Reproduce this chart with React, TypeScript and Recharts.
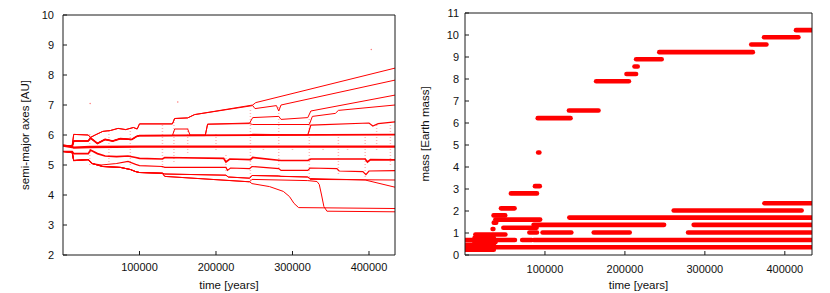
import React from 'react';
import { ComposedChart, Line, XAxis, YAxis, ReferenceLine, Scatter } from 'recharts';

type P = [number, number];
type Seg = [number, number, number];

// ---------- shared axis data ----------
const T_MAX = 434000;
const timeTicks = [100000, 200000, 300000, 400000];
const auTicks = [2, 3, 4, 5, 6, 7, 8, 9, 10];
const massTicks = [0, 1, 2, 3, 4, 5, 6, 7, 8, 9, 10, 11];

// ---------- left panel: semi-major axes [AU] vs time ----------
// early shared tracks (t, a)
const early1: P[] = [[0, 5.65], [12000, 5.65], [14000, 6.02], [33000, 6.0], [36000, 5.92], [42000, 6.0], [52000, 6.12], [62000, 6.15], [72000, 6.22], [82000, 6.18], [92000, 6.25], [97000, 6.2], [100000, 6.37]];
const early2: P[] = [[0, 5.65], [12000, 5.62], [14000, 5.8], [33000, 5.8], [36000, 5.9], [45000, 5.72], [55000, 5.85], [65000, 5.8], [75000, 5.88], [90000, 5.85], [96000, 5.95], [100000, 5.98]];
const early3: P[] = [[0, 5.65], [12000, 5.6], [14000, 5.58], [35000, 5.6], [100000, 5.61]];
const early4: P[] = [[0, 5.45], [12000, 5.45], [14000, 5.38], [33000, 5.38], [36000, 5.5], [45000, 5.38], [55000, 5.3], [70000, 5.28], [85000, 5.3], [95000, 5.25], [100000, 5.22]];
const early5: P[] = [[0, 5.45], [12000, 5.42], [14000, 5.15], [33000, 5.18], [38000, 5.05], [50000, 5.0], [70000, 5.05], [85000, 5.12], [95000, 5.02], [100000, 4.98]];
const early6: P[] = [[0, 5.45], [12000, 5.42], [14000, 5.15], [33000, 5.18], [38000, 5.05], [52000, 4.95], [75000, 4.92], [88000, 4.85], [95000, 4.78], [100000, 4.75]];

const orbit1: P[] = [...early1, [143000, 6.37], [146000, 6.55], [163000, 6.57], [172000, 6.68], [248000, 7.0], [252000, 7.08], [434000, 8.23]];
const orbit2: P[] = [...early1, [143000, 6.37], [146000, 6.55], [163000, 6.57], [172000, 6.68], [248000, 6.98], [251000, 6.88], [279000, 6.98], [282000, 6.8], [285000, 7.0], [434000, 7.83]];
const orbit3: P[] = [...early2, [143000, 5.98], [146000, 6.2], [163000, 6.2], [166000, 6.0], [186000, 6.0], [189000, 6.36], [244000, 6.4], [248000, 6.58], [282000, 6.62], [285000, 6.52], [320000, 6.58], [324000, 6.8], [434000, 7.33]];
const orbit4: P[] = [...early2, [186000, 5.98], [189000, 6.36], [244000, 6.38], [248000, 6.35], [322000, 6.35], [326000, 6.62], [356000, 6.72], [360000, 6.82], [434000, 7.0]];
const orbit5: P[] = [...early2, [244000, 6.0], [248000, 6.02], [320000, 6.0], [324000, 6.33], [400000, 6.4], [405000, 6.3], [412000, 6.38], [434000, 6.44]];
const orbit6: P[] = [...early2, [434000, 6.01]];
const orbit7: P[] = [...early3, [434000, 5.61]];
const orbit8: P[] = [...early4, [130000, 5.2], [133000, 5.25], [210000, 5.22], [213000, 5.1], [218000, 5.2], [245000, 5.18], [248000, 5.25], [285000, 5.15], [320000, 5.15], [324000, 5.2], [395000, 5.2], [398000, 5.1], [402000, 5.18], [434000, 5.17]];
const orbit9: P[] = [...early5, [130000, 4.95], [133000, 4.92], [213000, 4.92], [215000, 4.82], [219000, 4.9], [244000, 4.88], [247000, 4.95], [282000, 4.88], [285000, 4.82], [320000, 4.82], [323000, 4.9], [358000, 4.88], [361000, 4.8], [392000, 4.78], [396000, 4.68], [400000, 4.8], [434000, 4.81]];
const orbit10: P[] = [...early6, [130000, 4.73], [133000, 4.7], [213000, 4.66], [216000, 4.6], [244000, 4.56], [247000, 4.65], [282000, 4.64], [285000, 4.62], [320000, 4.6], [323000, 4.52], [434000, 4.5]];
const orbit11: P[] = [...early6, [130000, 4.73], [133000, 4.7], [213000, 4.66], [216000, 4.6], [244000, 4.56], [247000, 4.65], [320000, 4.6], [323000, 4.55], [395000, 4.5], [434000, 4.26]];
const orbit12: P[] = [...early6, [130000, 4.72], [133000, 4.62], [244000, 4.44], [247000, 4.38], [270000, 4.28], [288000, 4.12], [296000, 3.95], [302000, 3.72], [308000, 3.58], [434000, 3.55]];
const orbit13: P[] = [...early6, [130000, 4.72], [133000, 4.62], [244000, 4.44], [247000, 4.52], [320000, 4.48], [332000, 4.45], [335000, 4.35], [338000, 4.0], [341000, 3.62], [345000, 3.46], [434000, 3.44]];

const orbits: P[][] = [orbit1, orbit2, orbit3, orbit4, orbit5, orbit6, orbit7, orbit8, orbit9, orbit10, orbit11, orbit12, orbit13];
const orbitWidths = [1, 1, 1, 1, 1.2, 1.7, 2.3, 1.7, 1.2, 1, 1, 1, 1];

// scattered encounter spikes: [t, aLow, aHigh]
const spikes: Seg[] = [
  [35000, 5.0, 6.1], [60000, 5.1, 6.15], [88000, 5.0, 6.3], [130000, 4.9, 6.4], [145000, 5.1, 6.6],
  [163000, 5.4, 6.3], [200000, 5.5, 6.1], [213000, 4.8, 5.4], [245000, 4.5, 6.9], [262000, 5.5, 5.7],
  [282000, 4.9, 7.0], [300000, 5.5, 5.7], [322000, 4.6, 6.6], [340000, 5.5, 5.7], [360000, 4.7, 6.1],
  [372000, 5.5, 5.7], [395000, 4.6, 6.0], [410000, 5.5, 6.4], [428000, 5.0, 6.4],
];
const strays: P[] = [[35500, 7.05], [403000, 8.85], [150000, 7.1]];

// ---------- right panel: mass [Earth mass] vs time, plateaus [t0, t1, m] ----------
const massSteps: Seg[] = [
  [414000, 434000, 10.22], [374000, 417000, 9.9], [358000, 377000, 9.57], [243000, 360000, 9.22],
  [214000, 246000, 8.9], [212000, 216000, 8.57], [202000, 214000, 8.23], [164000, 205000, 7.9],
  [130000, 167000, 6.57], [91000, 132000, 6.22], [91500, 93000, 4.66], [87500, 93500, 3.13],
  [57500, 90000, 2.8], [45000, 62000, 2.12],
];
const massOthers: Seg[] = [
  [374500, 434000, 2.35], [261000, 421000, 2.02], [35700, 50300, 1.8], [130500, 434000, 1.7],
  [38000, 94000, 1.61], [36000, 39000, 1.47], [34500, 35500, 1.18], [85800, 249000, 1.37],
  [286000, 434000, 1.37], [48000, 89500, 1.24], [80500, 90000, 1.02], [97000, 133000, 1.02],
  [161000, 206000, 1.02], [279000, 434000, 1.02], [13000, 50500, 0.93], [12000, 36000, 0.78],
  [12000, 38000, 0.58], [0, 62500, 0.68], [71500, 83500, 0.68], [86000, 434000, 0.68],
  [0, 36000, 0.24], [0, 36000, 0.46], [0, 434000, 0.35],
];

// ---------- styling ----------
const FONT = '"Liberation Sans", Arial, Helvetica, sans-serif';
const FRAME = '#1a1a1a';
const RED = '#ff0000';
const tickStyle = { fontSize: 11, fill: '#111', fontFamily: FONT };
const titleStyle: React.CSSProperties = { fontSize: 11.5, fill: '#111', fontFamily: FONT };

const VTitle = (cx: number) => (props: any) => {
  const vb = props.viewBox || {};
  const cy = vb.y + vb.height / 2;
  return (
    <text x={cx} y={cy} transform={`rotate(-90 ${cx} ${cy})`} textAnchor="middle" dominantBaseline="central" style={titleStyle}>
      {props.value}
    </text>
  );
};
const HTitle = (dy: number) => (props: any) => {
  const vb = props.viewBox || {};
  const cx = vb.x + vb.width / 2;
  return (
    <text x={cx} y={vb.y + dy} textAnchor="middle" style={titleStyle}>
      {props.value}
    </text>
  );
};

const toAU = (arr: P[]) => arr.map(([t, a]) => ({ t, a }));
const toSeg = (s: Seg) => [{ t: s[0], m: s[2] }, { t: s[1], m: s[2] }];

function frameAxes(yDomain: [number, number], yTicks: number[], yWidth: number, yMargin: number, yTitle: string, yTitleX: number, xMargin: number) {
  return [
    <XAxis key="xb" xAxisId="b" type="number" dataKey="t" domain={[0, T_MAX]} ticks={timeTicks} interval={0}
      allowDataOverflow tickSize={-4} tickMargin={xMargin} tick={tickStyle} axisLine={{ stroke: FRAME }}
      tickLine={{ stroke: FRAME }} height={38} label={{ value: 'time [years]', content: HTitle(34) }} />,
    <XAxis key="xt" xAxisId="t" orientation="top" type="number" dataKey="t" domain={[0, T_MAX]} ticks={timeTicks}
      interval={0} allowDataOverflow tickSize={-4} tick={false} axisLine={{ stroke: FRAME }} tickLine={{ stroke: FRAME }} height={1} />,
    <YAxis key="yl" yAxisId="l" type="number" domain={yDomain} ticks={yTicks} interval={0} allowDataOverflow
      tickSize={-4} tickMargin={yMargin} tick={tickStyle} axisLine={{ stroke: FRAME }} tickLine={{ stroke: FRAME }}
      width={yWidth} label={{ value: yTitle, content: VTitle(yTitleX) }} />,
    <YAxis key="yr" yAxisId="r" orientation="right" type="number" domain={yDomain} ticks={yTicks} interval={0}
      allowDataOverflow tickSize={-4} tick={false} axisLine={{ stroke: FRAME }} tickLine={{ stroke: FRAME }} width={1} />,
  ];
}

function AxesChart() {
  return (
    <ComposedChart width={420} height={293} margin={{ top: 14, right: 24, bottom: 0, left: 0 }}>
      {frameAxes([2, 10], auTicks, 63, 13, 'semi-major axes [AU]', 25, 12)}
      {spikes.map((s, i) => (
        <ReferenceLine key={'s' + i} xAxisId="b" yAxisId="l" segment={[{ x: s[0], y: s[1] }, { x: s[0], y: s[2] }]}
          stroke={RED} strokeOpacity={0.28} strokeWidth={1.5} strokeDasharray="1 2" />
      ))}
      {orbits.map((o, i) => (
        <Line key={'o' + i} xAxisId="b" yAxisId="l" data={toAU(o)} dataKey="a" type="linear" stroke={RED}
          strokeWidth={orbitWidths[i]} dot={false} activeDot={false} isAnimationActive={false} />
      ))}
      <Scatter xAxisId="b" yAxisId="l" data={toAU(strays)} dataKey="a" fill={RED} isAnimationActive={false}
        shape={(p: any) => <circle cx={p.cx} cy={p.cy} r={0.8} fill="#ff8080" />} />
    </ComposedChart>
  );
}

function MassChart() {
  const all = [...massSteps, ...massOthers];
  return (
    <ComposedChart width={410} height={293} margin={{ top: 12, right: 17, bottom: 0, left: 0 }}>
      {frameAxes([0, 11], massTicks, 45, 10, 'mass [Earth mass]', 5, 14)}
      {all.map((s, i) => (
        <Line key={'m' + i} xAxisId="b" yAxisId="l" data={toSeg(s)} dataKey="m" type="linear" stroke={RED}
          strokeWidth={4.6} strokeLinecap="round" dot={false} activeDot={false} isAnimationActive={false} />
      ))}
    </ComposedChart>
  );
}

export default function App() {
  return (
    <div style={{ position: 'absolute', left: 0, top: 0, width: 830, height: 293, background: '#fff' }}>
      <div style={{ position: 'absolute', left: 0, top: 0 }}>
        <AxesChart />
      </div>
      <div style={{ position: 'absolute', left: 420, top: 0 }}>
        <MassChart />
      </div>
    </div>
  );
}
